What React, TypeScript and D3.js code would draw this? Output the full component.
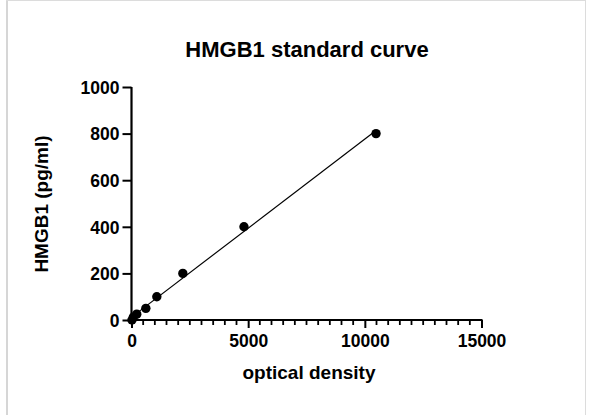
import { useEffect, useRef } from 'react'
import * as d3 from 'd3'

// standard concentrations (pg/ml) vs measured optical density
const concentrations = [800, 400, 200, 100, 50, 25, 12.5, 0]
const densities = [10480, 4820, 2200, 1085, 615, 225, 80, 20]

const xTicks = [0, 5000, 10000, 15000]
const yTicks = [0, 200, 400, 600, 800, 1000]

const title = 'HMGB1 standard curve'
const xLabel = 'optical density'
const yLabel = 'HMGB1 (pg/ml)'

export default function App() {
  const svgRef = useRef<SVGSVGElement>(null)

  useEffect(() => {
    if (!svgRef.current) return

    const svg = d3.select(svgRef.current)
    svg.selectAll('*').remove()

    const width = 592
    const height = 415
    const font = '"Liberation Sans", Arial, Helvetica, sans-serif'

    // frame around the graph page
    svg.append('line').attr('x1', 7).attr('x2', 7).attr('y1', 0).attr('y2', height)
      .attr('stroke', '#d6d6d6').attr('stroke-width', 2)
    svg.append('line').attr('x1', 6).attr('x2', 586).attr('y1', 0.5).attr('y2', 0.5)
      .attr('stroke', '#dcdcdc').attr('stroke-width', 1)
    svg.append('line').attr('x1', 585.5).attr('x2', 585.5).attr('y1', 0).attr('y2', height)
      .attr('stroke', '#dcdcdc').attr('stroke-width', 1)

    const x = d3.scaleLinear().domain([0, 15000]).range([131.5, 481.5])
    const y = d3.scaleLinear().domain([0, 1000]).range([320, 87])

    const points = densities.map((d, i) => ({ od: d, conc: concentrations[i] }))

    // least squares fit for the standard line
    const mx = d3.mean(points, p => p.od) as number
    const my = d3.mean(points, p => p.conc) as number
    const sxy = d3.sum(points, p => (p.od - mx) * (p.conc - my))
    const sxx = d3.sum(points, p => (p.od - mx) ** 2)
    const slope = sxy / sxx
    const intercept = my - slope * mx
    const [x0, x1] = d3.extent(densities) as [number, number]

    // y axis
    const yAxis = svg.append('g').attr('transform', `translate(${x(0)},0)`)
      .call(d3.axisLeft(y).tickValues(yTicks).tickSize(9).tickPadding(3).tickFormat(d3.format('d')))
    yAxis.select('.domain').attr('stroke-width', 2.2).attr('d', `M0,${y(1000)}V${y(0) + 1}`)
    yAxis.selectAll('.tick line').attr('stroke-width', 2)
    yAxis.selectAll('.tick text').attr('font-family', font).attr('font-weight', 'bold')
      .attr('font-size', 17.5).attr('fill', '#000').attr('dy', '0.36em')

    // x axis with minor ticks every 500
    const xAxis = svg.append('g').attr('transform', `translate(0,${y(0)})`)
      .call(d3.axisBottom(x).tickValues(xTicks).tickSize(8).tickPadding(7).tickFormat(d3.format('d')))
    xAxis.select('.domain').attr('stroke-width', 2.2).attr('d', `M${x(0) - 1},0H${x(15000) + 1}`)
    xAxis.selectAll('.tick line').attr('stroke-width', 2)
    xAxis.selectAll('.tick text').attr('font-family', font).attr('font-weight', 'bold')
      .attr('font-size', 17.5).attr('fill', '#000')

    const minor = d3.range(500, 15000, 500).filter(v => v % 5000 !== 0)
    xAxis.selectAll('.minor').data(minor).enter().append('line')
      .attr('class', 'minor')
      .attr('x1', d => x(d)).attr('x2', d => x(d))
      .attr('y1', 0).attr('y2', 5)
      .attr('stroke', '#000').attr('stroke-width', 1.8)

    // fit line
    svg.append('line')
      .attr('x1', x(x0)).attr('y1', y(slope * x0 + intercept))
      .attr('x2', x(x1)).attr('y2', y(slope * x1 + intercept))
      .attr('stroke', '#000').attr('stroke-width', 1.2)

    // points
    svg.selectAll('circle.pt').data(points).enter().append('circle')
      .attr('class', 'pt')
      .attr('cx', d => x(d.od))
      .attr('cy', d => y(d.conc))
      .attr('r', 4.7)
      .attr('fill', '#000')

    // titles
    svg.append('text').attr('x', 307).attr('y', 57).attr('text-anchor', 'middle')
      .attr('font-family', font).attr('font-weight', 'bold').attr('font-size', 22)
      .text(title)
    svg.append('text').attr('x', 309).attr('y', 379).attr('text-anchor', 'middle')
      .attr('font-family', font).attr('font-weight', 'bold').attr('font-size', 19)
      .text(xLabel)
    svg.append('text').attr('transform', `translate(48,204) rotate(-90)`).attr('text-anchor', 'middle')
      .attr('font-family', font).attr('font-weight', 'bold').attr('font-size', 19)
      .text(yLabel)
  }, [])

  return (
    <svg
      ref={svgRef}
      width={592}
      height={415}
      style={{ position: 'absolute', left: 0, top: 0, background: '#fff', display: 'block' }}
    />
  )
}
